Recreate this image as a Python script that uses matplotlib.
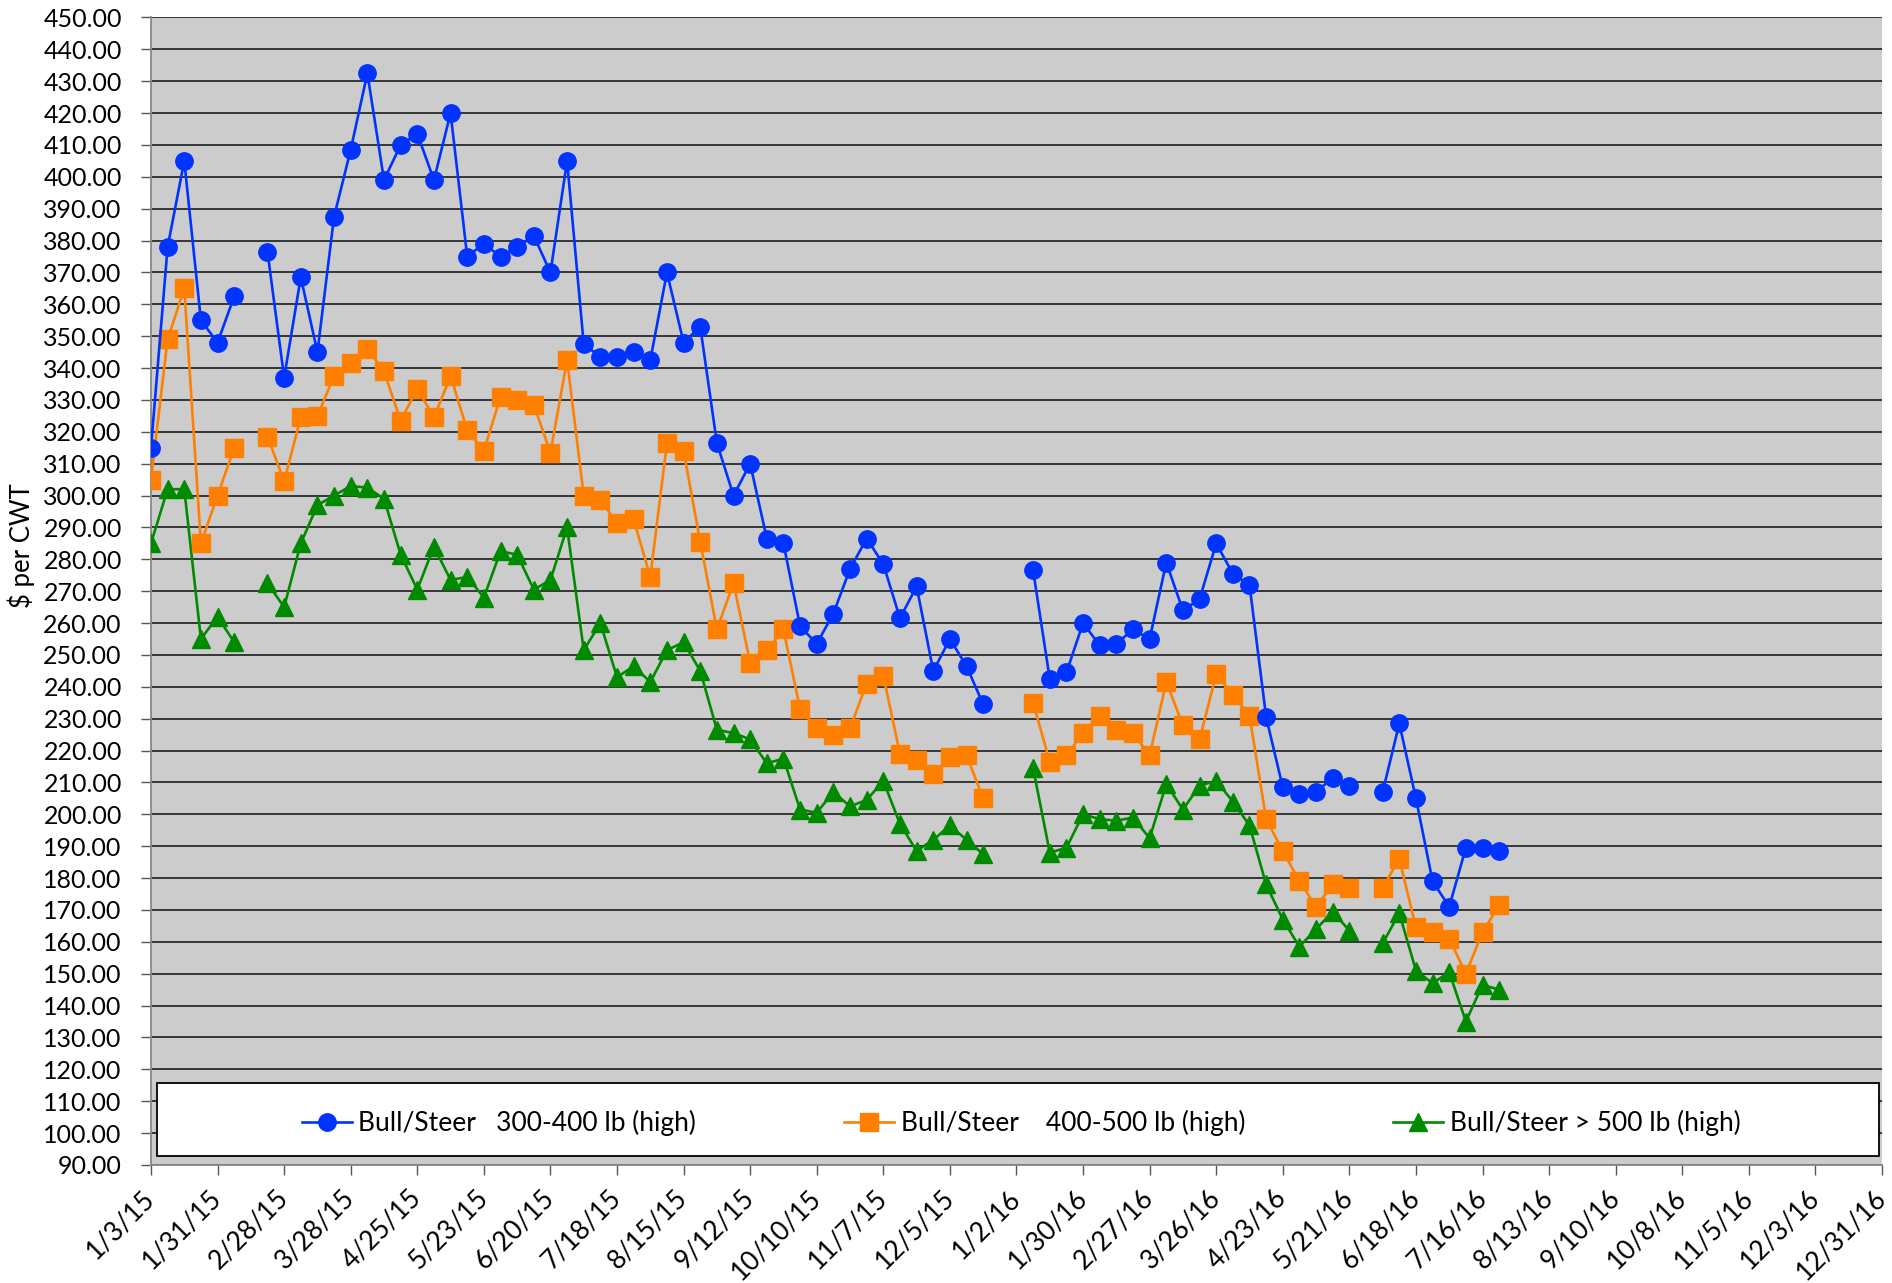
import numpy as np
import pandas as pd
import matplotlib
matplotlib.use("Agg")
import matplotlib.pyplot as plt
from matplotlib.patches import Rectangle

# Weekly auction data, 1/3/15 onward (nan = no sale that week)
nan = np.nan
week_start = "2015-01-03"

bull_300_400 = [315, 378, 405, 355, 348, 362.5, nan, 376.5, 337, 368.5,
                345, 387.5, 408.5, 432.5, 399, 410, 413.5, 399, 420, 375,
                379, 375, 378, 381.5, 370, 405, 347.5, 343.5, 343.5, 345,
                342.5, 370, 348, 353, 316.5, 300, 310, 286.5, 285, 259,
                253.5, 263, 277, 286.5, 278.5, 261.5, 271.5, 245, 255, 246.5,
                234.5, nan, nan, 276.5, 242.5, 244.5, 260, 253, 253.5, 258,
                255, 279, 264, 267.5, 285, 275.5, 272, 230.5, 208.5, 206.5,
                207, 211.5, 209, nan, 207, 228.5, 205, 179, 171, 189.5,
                189.5, 188.5]

bull_400_500 = [305, 349, 365, 285, 300, 315, nan, 318.5, 304.5, 324.5,
                325, 337.5, 341.5, 346, 339, 323.5, 333.5, 324.5, 337.5, 320.5,
                314, 331, 330, 328.5, 313.5, 342.5, 300, 298.5, 291.5, 292.5,
                274.5, 316.5, 314, 285.5, 258, 272.5, 247.5, 251.5, 258, 233,
                227, 225, 227, 241, 243.5, 219, 217, 212.5, 218, 218.5,
                205, nan, nan, 235, 216.5, 218.5, 225.5, 231, 226.5, 225.5,
                218.5, 241.5, 228, 223.5, 244, 237.5, 231, 198.5, 188.5, 179,
                171, 178, 177, nan, 177, 186, 164.5, 163, 161, 150,
                163, 171.5]

bull_500_plus = [285, 302, 302, 255, 262, 254, nan, 272.5, 265, 285,
                 297, 300, 303, 302.5, 299, 281.5, 270.5, 284, 273.5, 274.5,
                 268, 282.5, 281.5, 270.5, 273.5, 290, 251.5, 260, 243, 246.5,
                 241.5, 251.5, 254, 245, 226.5, 225.5, 223.5, 216, 217.5, 201.5,
                 200.5, 207, 202.5, 204.5, 210.5, 197, 188.5, 192, 196.5, 192,
                 187.5, nan, nan, 214.5, 188, 189.5, 200, 198.5, 198, 199,
                 192.5, 209.5, 201.5, 209, 210.5, 204, 196.5, 178, 167, 158.5,
                 164, 169.5, 163.5, nan, 159.5, 169, 151, 147, 150.5, 135,
                 146.5, 145]

labels = ["Bull/Steer   300-400 lb (high)",
          "Bull/Steer    400-500 lb (high)",
          "Bull/Steer > 500 lb (high)"]

weeks = pd.date_range(week_start, periods=len(bull_300_400), freq="7D")
tick_dates = pd.date_range("2015-01-03", "2016-12-31", freq="28D")

plt.rcParams['font.family'] = ['Lato', 'DejaVu Sans']

fig = plt.figure(figsize=(18.92, 12.83), dpi=100)
ax = fig.add_axes([0.0798, 0.092, 0.9149, 0.8944])
ax.set_facecolor('#CCCCCC')

ax.plot(weeks, bull_300_400, color='#0033FF', lw=1.9, marker='o', ms=12.5,
        label=labels[0], zorder=5)
ax.plot(weeks, bull_400_500, color='#FF8000', lw=1.9, marker='s', ms=12.5,
        label=labels[1], zorder=4)
ax.plot(weeks, bull_500_plus, color='#008A00', lw=1.9, marker='^', ms=13,
        label=labels[2], zorder=3)

ax.set_xlim(tick_dates[0], tick_dates[-1])
ax.set_ylim(90, 450)
ax.set_yticks(np.arange(90, 451, 10))
ax.yaxis.set_major_formatter(plt.FuncFormatter(lambda v, p: f'{v:.2f}'))
ax.set_xticks(tick_dates)
ax.set_xticklabels([f'{d.month}/{d.day}/{d.strftime("%y")}' for d in tick_dates],
                   rotation=45, ha='right', va='center', rotation_mode='anchor')

ax.grid(axis='y', color='#2a2a2a', lw=1.3)
ax.set_axisbelow(True)
ax.tick_params(axis='y', labelsize=18, length=7, width=1, color='#555555', pad=14)
ax.tick_params(axis='x', labelsize=19, length=7, width=1, color='#555555', pad=14)
for s in ['top', 'right']:
    ax.spines[s].set_visible(False)
for s in ['left', 'bottom']:
    ax.spines[s].set_color('#888888')
    ax.spines[s].set_linewidth(1.3)

ax.set_ylabel('$ per CWT', fontsize=18.5)
ax.yaxis.set_label_coords(-0.067, 0.54)

# legend box sitting inside the plot area
ax.add_patch(Rectangle((0.0035, 0.0078), 0.9948, 0.0637, transform=ax.transAxes,
                       facecolor='white', edgecolor='black', lw=1.3, zorder=6))
leg = ax.legend(loc='center left', bbox_to_anchor=(0.087, 0.0366), ncol=3,
                frameon=False, fontsize=19, handlelength=1.9, handletextpad=0.25,
                columnspacing=5.6, borderpad=0, borderaxespad=0)
leg.set_zorder(7)

fig.savefig('out.png', dpi=100)
